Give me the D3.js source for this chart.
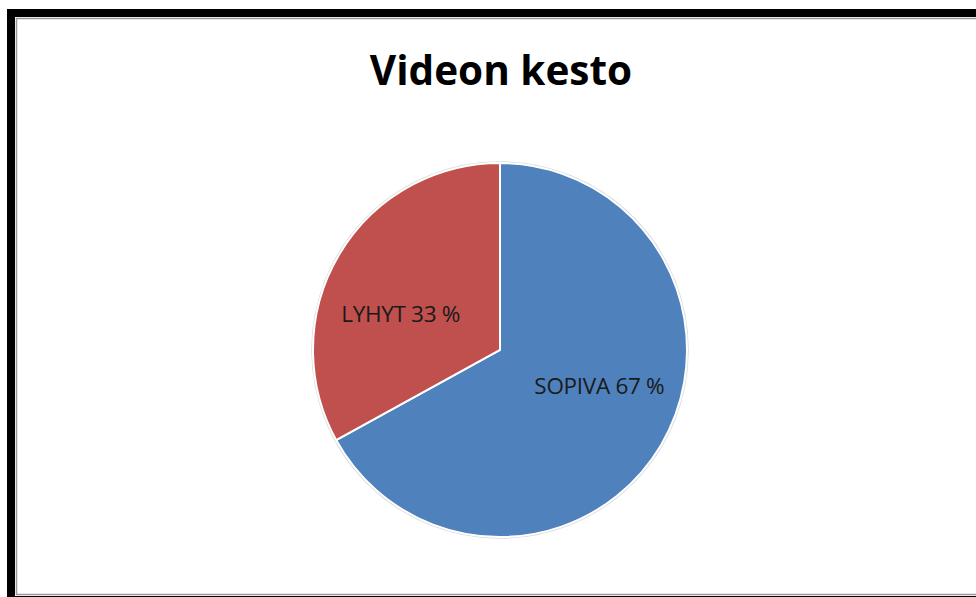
<!DOCTYPE html>
<html>
<head>
<meta charset="utf-8">
<script src="https://cdn.jsdelivr.net/npm/d3@7"></script>
<style>
  body { margin: 0; background: #fff; }
  svg { display: block; }
</style>
</head>
<body>
<div id="chart"></div>
<script>
const width = 976, height = 597;

// chart data
const categories = ['SOPIVA', 'LYHYT'];
const values = [67, 33];
const colors = ['#4F81BD', '#C0504D'];
const title = 'Videon kesto';

const svg = d3.select('#chart')
  .append('svg')
  .attr('width', width)
  .attr('height', height);

// outer frame (cut off on the right)
svg.append('rect')
  .attr('x', 11).attr('y', 13)
  .attr('width', 1000).attr('height', 587)
  .attr('fill', 'none')
  .attr('stroke', '#000')
  .attr('stroke-width', 8);

svg.append('rect')
  .attr('x', 16.5).attr('y', 18.5)
  .attr('width', 1000).attr('height', 576)
  .attr('fill', 'none')
  .attr('stroke', '#999')
  .attr('stroke-width', 1.5);

svg.append('text')
  .attr('x', 501)
  .attr('y', 85)
  .attr('text-anchor', 'middle')
  .style('font-family', '"Open Sans", sans-serif')
  .style('font-weight', 'bold')
  .style('font-size', '40.5px')
  .style('fill', '#000')
  .text(title);

const cx = 500, cy = 350, radius = 187;

const data = categories.map((c, i) => ({ name: c, value: values[i], color: colors[i] }));

const pie = d3.pie()
  .sort(null)
  .value(d => d.value);

const arc = d3.arc()
  .innerRadius(0)
  .outerRadius(radius);

const labelArc = d3.arc()
  .innerRadius(111)
  .outerRadius(111);

const g = svg.append('g')
  .attr('transform', `translate(${cx}, ${cy})`);

g.append('circle')
  .attr('r', radius + 1)
  .attr('fill', 'none')
  .attr('stroke', '#d9d9d9')
  .attr('stroke-width', 1.5);

g.selectAll('path')
  .data(pie(data))
  .enter()
  .append('path')
  .attr('d', arc)
  .attr('fill', d => d.data.color)
  .attr('stroke', '#fff')
  .attr('stroke-width', 2);

g.selectAll('text.label')
  .data(pie(data))
  .enter()
  .append('text')
  .attr('class', 'label')
  .attr('x', d => labelArc.centroid(d)[0] * 1.04)
  .attr('y', d => labelArc.centroid(d)[1] * 0.64)
  .attr('dy', '0.35em')
  .attr('text-anchor', 'middle')
  .style('font-family', '"Open Sans", sans-serif')
  .style('font-size', '22.5px')
  .style('letter-spacing', '-0.3px')
  .style('fill', '#1a1a1a')
  .text(d => d.data.name + ' ' + d.data.value + ' %');
</script>
</body>
</html>
